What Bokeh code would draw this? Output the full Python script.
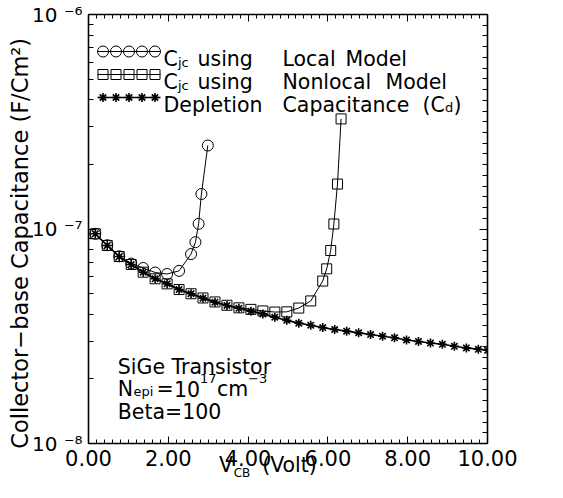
import math
from bokeh.plotting import figure
from bokeh.models import (Range1d, LinearAxis, LogAxis, FixedTicker,
                          NumeralTickFormatter, CustomJSTickFormatter, Label)
from bokeh.embed import file_html
from bokeh.resources import INLINE

# ---------------- data ----------------
v_dep = [0.17, 0.47, 0.77, 1.07, 1.37, 1.67, 1.97, 2.27, 2.57, 2.87, 3.17, 3.47,
         3.77, 4.07, 4.37, 4.67, 4.97, 5.27, 5.57, 5.87, 6.17, 6.47, 6.77, 7.07,
         7.37, 7.67, 7.97, 8.27, 8.57, 8.87, 9.17, 9.47, 9.77, 10.0]
c_dep = [9.5e-8, 8.38e-8, 7.44e-8, 6.83e-8, 6.29e-8, 5.86e-8, 5.55e-8, 5.22e-8,
         4.99e-8, 4.76e-8, 4.56e-8, 4.40e-8, 4.27e-8, 4.14e-8, 4.02e-8, 3.88e-8,
         3.75e-8, 3.64e-8, 3.56e-8, 3.47e-8, 3.40e-8, 3.34e-8, 3.28e-8, 3.22e-8,
         3.16e-8, 3.11e-8, 3.04e-8, 2.99e-8, 2.94e-8, 2.90e-8, 2.84e-8, 2.79e-8,
         2.75e-8, 2.72e-8]

v_nonlocal = [0.17, 0.47, 0.77, 1.07, 1.37, 1.67, 1.97, 2.27, 2.57, 2.87, 3.17,
              3.47, 3.77, 4.07, 4.37, 4.67, 4.97, 5.27, 5.57, 5.87, 5.97, 6.07,
              6.15, 6.24, 6.33]
c_nonlocal = [9.5e-8, 8.38e-8, 7.44e-8, 6.83e-8, 6.29e-8, 5.86e-8, 5.55e-8,
              5.22e-8, 4.99e-8, 4.77e-8, 4.57e-8, 4.41e-8, 4.29e-8, 4.22e-8,
              4.15e-8, 4.10e-8, 4.11e-8, 4.28e-8, 4.62e-8, 5.72e-8, 6.52e-8,
              7.94e-8, 1.055e-7, 1.62e-7, 3.26e-7]

v_local = [0.17, 0.47, 0.77, 1.07, 1.37, 1.67, 1.97, 2.27, 2.57, 2.68, 2.76, 2.83, 2.99]
c_local = [9.5e-8, 8.4e-8, 7.46e-8, 6.9e-8, 6.58e-8, 6.27e-8, 6.17e-8, 6.38e-8,
           7.64e-8, 8.68e-8, 1.057e-7, 1.456e-7, 2.45e-7]

x_major = [0, 2, 4, 6, 8, 10]
y_major = [1e-8, 1e-7, 1e-6]
y_tick_labels = ["10\u00a0\u207b\u2078", "10\u00a0\u207b\u2077", "10\u00a0\u207b\u2076"]

x_title_main = ["V", "(Volt)"]
x_title_sub = ["CB"]
y_title = "Collector\u2212base   Capacitance   (F/Cm\u00b2)"

X0, X1 = 0.0, 10.0
Y0, Y1 = 1e-8, 1e-6

# ---------------- layout ----------------
FONT = "DejaVu Sans"
W, H = 547, 482
FL, FT, FW, FH = 88.0, 14.0, 399.0, 429.0    # frame box in canvas px

p = figure(width=W, height=H, x_range=Range1d(X0, X1), y_range=Range1d(Y0, Y1),
           y_axis_type="log", output_backend="svg", toolbar_location=None,
           min_border_left=int(FL), min_border_top=int(FT),
           min_border_right=int(W - FL - FW), min_border_bottom=int(H - FT - FH),
           background_fill_color="white", border_fill_color="white",
           outline_line_color=None)
p.xgrid.visible = False
p.ygrid.visible = False

x_minor = [i * 0.2 for i in range(51)]
left_minor = [m * 10.0 ** e for e in (-8, -7) for m in range(2, 10)]
right_minor = [10.0 ** (-8 + k / 20.0) for k in range(41)]

blank = CustomJSTickFormatter(code="return ''")


def style_axis(ax, ticker, major_len, minor_len):
    ax.ticker = ticker
    ax.axis_line_color = "black"
    ax.axis_line_width = 1.6
    ax.major_tick_line_color = "black"
    ax.minor_tick_line_color = "black"
    ax.major_tick_in = major_len
    ax.major_tick_out = 0
    ax.minor_tick_in = minor_len
    ax.minor_tick_out = 0


def hide_labels(ax):
    ax.formatter = blank
    ax.major_label_text_font_size = "0px"
    ax.major_label_standoff = 0


# bottom axis with tick labels
bx = p.xaxis[0]
style_axis(bx, FixedTicker(ticks=x_major, minor_ticks=x_minor), 7, 4)
bx.formatter = NumeralTickFormatter(format="0.00")
bx.major_label_text_font = FONT
bx.major_label_text_font_size = "21px"
bx.major_label_text_color = "black"
bx.major_label_standoff = 6

# left axis: 10^n labels and the y title
ly = p.yaxis[0]
style_axis(ly, FixedTicker(ticks=y_major, minor_ticks=left_minor), 8, 5)
ly.formatter = CustomJSTickFormatter(
    args=dict(labels=y_tick_labels),
    code="return labels[Math.round(Math.log10(tick)) + 8]")
ly.major_label_text_font = FONT
ly.major_label_text_font_size = "20px"
ly.major_label_text_color = "black"
ly.major_label_standoff = 6
ly.axis_label = y_title
ly.axis_label_text_font = FONT
ly.axis_label_text_font_size = "22.5px"
ly.axis_label_text_font_style = "normal"
ly.axis_label_text_color = "black"
ly.axis_label_standoff = -4

# top axis
tx = LinearAxis()
style_axis(tx, FixedTicker(ticks=x_major, minor_ticks=x_minor), 7, 4)
hide_labels(tx)
p.add_layout(tx, "above")

# right axis
ry = LogAxis()
style_axis(ry, FixedTicker(ticks=y_major, minor_ticks=right_minor), 8, 5)
hide_labels(ry)
p.add_layout(ry, "right")


def data_x(px):
    return X0 + (px - FL) / FW * (X1 - X0)


def data_y(py):
    l1, l0 = math.log10(Y1), math.log10(Y0)
    return 10 ** (l1 - (py - FT) / FH * (l1 - l0))


# x title "V_CB (Volt)" as two text-only axes stacked below
def text_axis(positions, labels, size, standoff):
    ax = LinearAxis(ticker=FixedTicker(ticks=positions, minor_ticks=[]))
    ax.formatter = CustomJSTickFormatter(args=dict(labels=labels),
                                         code="return labels[index]")
    ax.axis_line_color = None
    ax.major_tick_line_color = None
    ax.minor_tick_line_color = None
    ax.major_tick_in = 0
    ax.major_tick_out = 0
    ax.minor_tick_in = 0
    ax.minor_tick_out = 0
    ax.major_label_text_font = FONT
    ax.major_label_text_font_size = f"{size}px"
    ax.major_label_text_color = "black"
    ax.major_label_standoff = standoff
    p.add_layout(ax, "below")


text_axis([data_x(225.5), data_x(289.0)], x_title_main, 20.5, -16)
text_axis([data_x(241.5)], x_title_sub, 12, -14)

# ---------------- series ----------------
p.line(v_dep, c_dep, line_color="black", line_width=1.6)
p.scatter(v_dep, c_dep, marker="asterisk", size=9, line_color="black", line_width=1.6)

p.line(v_nonlocal, c_nonlocal, line_color="black", line_width=1)
p.scatter(v_nonlocal, c_nonlocal, marker="square", size=10, fill_color=None,
          line_color="black", line_width=1)

p.line(v_local, c_local, line_color="black", line_width=1)
p.scatter(v_local, c_local, marker="circle", size=11, fill_color=None,
          line_color="black", line_width=1)


# ---------------- in-frame texts ----------------
def add_text(txt, px, py, size, align="left"):
    p.add_layout(Label(x=px - FL, y=FT + FH - py, x_units="screen", y_units="screen",
                       text=txt, text_font=FONT, text_font_size=f"{size}px",
                       text_align=align, text_baseline="alphabetic",
                       text_color="black"))


# legend samples
leg_marker_px = [102.5, 115.5, 128.5, 141.5, 154.5]
leg_line_px = (97.0, 160.0)
leg_rows = [("circle", 11, 1.0, 51.0), ("square", 10, 1.0, 74.0), ("asterisk", 9, 1.6, 97.0)]
for marker, size, lw, py in leg_rows:
    yv = data_y(py)
    p.line([data_x(leg_line_px[0]), data_x(leg_line_px[1])], [yv, yv],
           line_color="black", line_width=lw)
    p.scatter([data_x(x) for x in leg_marker_px], [yv] * len(leg_marker_px),
              marker=marker, size=size, fill_color=None, line_color="black",
              line_width=lw)

BIG, SMALL = 20.5, 13
for base in (58.0, 81.0):
    add_text("C", 163.0, base, BIG)
    add_text("jc", 177.5, base + 3.5, SMALL)
    add_text("using", 197.0, base, BIG)
add_text("Local", 282.0, 58.0, BIG)
add_text("Model", 345.0, 58.0, BIG)
add_text("Nonlocal", 282.0, 81.0, BIG)
add_text("Model", 385.0, 81.0, BIG)
add_text("Depletion", 163.0, 104.0, BIG)
add_text("Capacitance", 282.0, 104.0, BIG)
add_text("(C", 422.0, 104.0, BIG)
add_text("d", 444.5, 107.0, SMALL)
add_text(")", 453.0, 104.0, BIG)

# annotation
add_text("SiGe  Transistor", 117.3, 366.7, BIG)
add_text("N", 117.3, 388.0, BIG)
add_text("epi", 133.0, 390.5, SMALL)
add_text("=", 156.0, 388.0, BIG)
add_text("10", 173.5, 388.0, BIG)
add_text("17", 199.5, 378.3, SMALL)
add_text("cm", 216.5, 388.0, BIG)
add_text("\u22123", 247.5, 378.3, SMALL)
add_text("Beta=100", 117.3, 411.0, BIG)

open("out.html", "w").write(file_html(p, INLINE))
